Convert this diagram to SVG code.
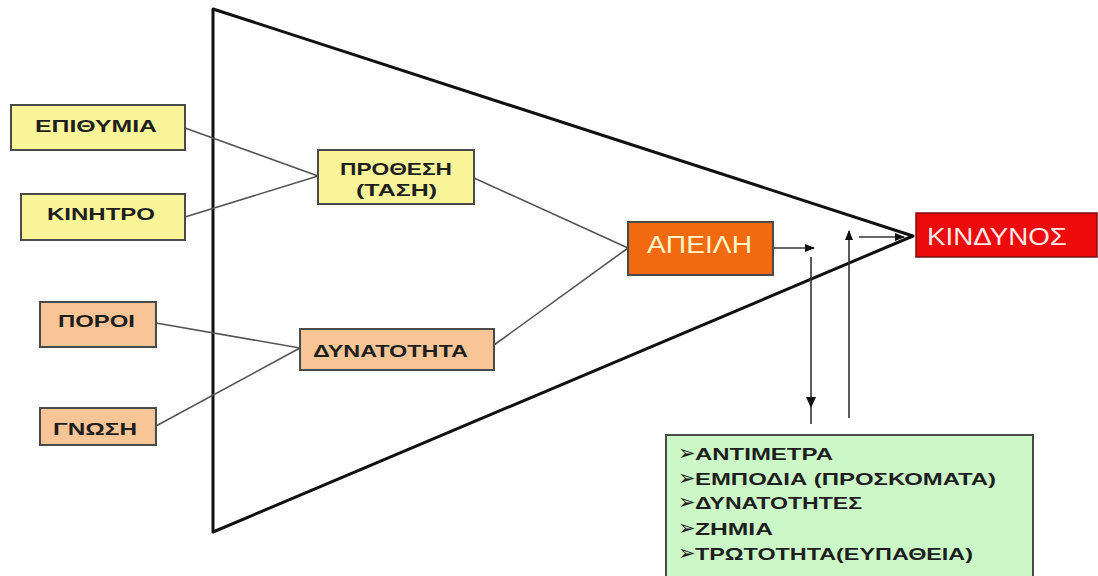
<svg xmlns="http://www.w3.org/2000/svg" width="1098" height="576" viewBox="0 0 1098 576">
  <style>
    .box{stroke:#4a4a4a;stroke-width:2}
    .y{fill:#fbf59a}
    .p{fill:#f9c597}
    .t{font-family:"Liberation Sans",Arial,sans-serif;font-weight:bold;font-size:17px;fill:#1e1e1e}
    .w{font-family:"Liberation Sans",Arial,sans-serif;font-size:23px}
    .c{fill:none;stroke:#555;stroke-width:1.6}
    .a{fill:none;stroke:#333;stroke-width:1.6}
    .b{font-family:"DejaVu Sans",sans-serif;font-size:21px;font-weight:bold}
  </style>
  <defs>
    <marker id="ah" markerWidth="10" markerHeight="8" refX="9" refY="4" orient="auto" markerUnits="userSpaceOnUse">
      <path d="M0,0 L10,4 L0,8 Z" fill="#111"/>
    </marker>
  </defs>
  <rect width="1098" height="576" fill="#fff"/>
  <g id="triangle">
    <polygon points="213,9 913,236 213,532" fill="none" stroke="#111" stroke-width="3" stroke-linejoin="round"/>
  </g>
  <g id="connectors">
    <line class="c" x1="185" y1="128" x2="318" y2="176"/>
    <line class="c" x1="185" y1="217" x2="318" y2="176"/>
    <line class="c" x1="156" y1="323" x2="300" y2="348"/>
    <line class="c" x1="156" y1="426" x2="300" y2="348"/>
    <line class="c" x1="474" y1="178" x2="628" y2="248"/>
    <line class="c" x1="494" y1="345" x2="628" y2="248"/>
    <line class="a" x1="773" y1="248" x2="814" y2="248" marker-end="url(#ah)"/>
    <line class="a" x1="811" y1="257" x2="811" y2="424"/>
    <path d="M806,397 L816,397 L811,408 Z" fill="#111"/>
    <line class="a" x1="849" y1="418" x2="849" y2="231" marker-end="url(#ah)"/>
    <line class="a" x1="859" y1="237" x2="904" y2="237" marker-end="url(#ah)"/>
  </g>
  <g id="epithymia">
    <rect class="box y" x="11" y="105" width="174" height="45"/>
    <text class="t" x="35" y="132" textLength="122" lengthAdjust="spacingAndGlyphs">ΕΠΙΘΥΜΙΑ</text>
  </g>
  <g id="kinitro">
    <rect class="box y" x="21" y="194" width="164" height="46"/>
    <text class="t" x="47" y="220" textLength="108" lengthAdjust="spacingAndGlyphs">ΚΙΝΗΤΡΟ</text>
  </g>
  <g id="prothesi">
    <rect class="box y" x="318" y="150" width="156" height="54"/>
    <text class="t" x="340" y="175" textLength="112" lengthAdjust="spacingAndGlyphs">ΠΡΟΘΕΣΗ</text>
    <text class="t" x="356" y="196" textLength="81" lengthAdjust="spacingAndGlyphs">(ΤΑΣΗ)</text>
  </g>
  <g id="poroi">
    <rect class="box p" x="40" y="302" width="116" height="45"/>
    <text class="t" x="58" y="327" textLength="77" lengthAdjust="spacingAndGlyphs">ΠΟΡΟΙ</text>
  </g>
  <g id="gnosi">
    <rect class="box p" x="40" y="408" width="116" height="37"/>
    <text class="t" x="53" y="435" textLength="84" lengthAdjust="spacingAndGlyphs">ΓΝΩΣΗ</text>
  </g>
  <g id="dynatotita">
    <rect class="box p" x="300" y="329" width="194" height="41"/>
    <text class="t" x="313" y="357" textLength="155" lengthAdjust="spacingAndGlyphs">ΔΥΝΑΤΟΤΗΤΑ</text>
  </g>
  <g id="apeili">
    <rect class="box" x="628" y="222" width="145" height="53" fill="#f26a10"/>
    <text class="w" x="647" y="253" textLength="105" lengthAdjust="spacingAndGlyphs" fill="#fff6c8">ΑΠΕΙΛΗ</text>
  </g>
  <g id="kindynos">
    <rect x="916" y="213" width="181" height="44" fill="#ec0a0a" stroke="#7a1010" stroke-width="1.5"/>
    <text class="w" x="927" y="245" textLength="140" lengthAdjust="spacingAndGlyphs" fill="#ffe8e8">ΚΙΝΔΥΝΟΣ</text>
  </g>
  <g id="measures">
    <rect class="box" x="666" y="435" width="367" height="142" fill="#ccf8c8"/>
    <text class="t" x="678" y="460"><tspan class="b">➢</tspan><tspan x="695" textLength="138" lengthAdjust="spacingAndGlyphs">ΑΝΤΙΜΕΤΡΑ</tspan></text>
    <text class="t" x="678" y="485"><tspan class="b">➢</tspan><tspan x="695" textLength="301" lengthAdjust="spacingAndGlyphs">ΕΜΠΟΔΙΑ (ΠΡΟΣΚΟΜΑΤΑ)</tspan></text>
    <text class="t" x="678" y="509"><tspan class="b">➢</tspan><tspan x="695" textLength="167" lengthAdjust="spacingAndGlyphs">ΔΥΝΑΤΟΤΗΤΕΣ</tspan></text>
    <text class="t" x="678" y="535"><tspan class="b">➢</tspan><tspan x="695" textLength="78" lengthAdjust="spacingAndGlyphs">ΖΗΜΙΑ</tspan></text>
    <text class="t" x="678" y="560"><tspan class="b">➢</tspan><tspan x="695" textLength="278" lengthAdjust="spacingAndGlyphs">ΤΡΩΤΟΤΗΤΑ(ΕΥΠΑΘΕΙΑ)</tspan></text>
  </g>
</svg>
